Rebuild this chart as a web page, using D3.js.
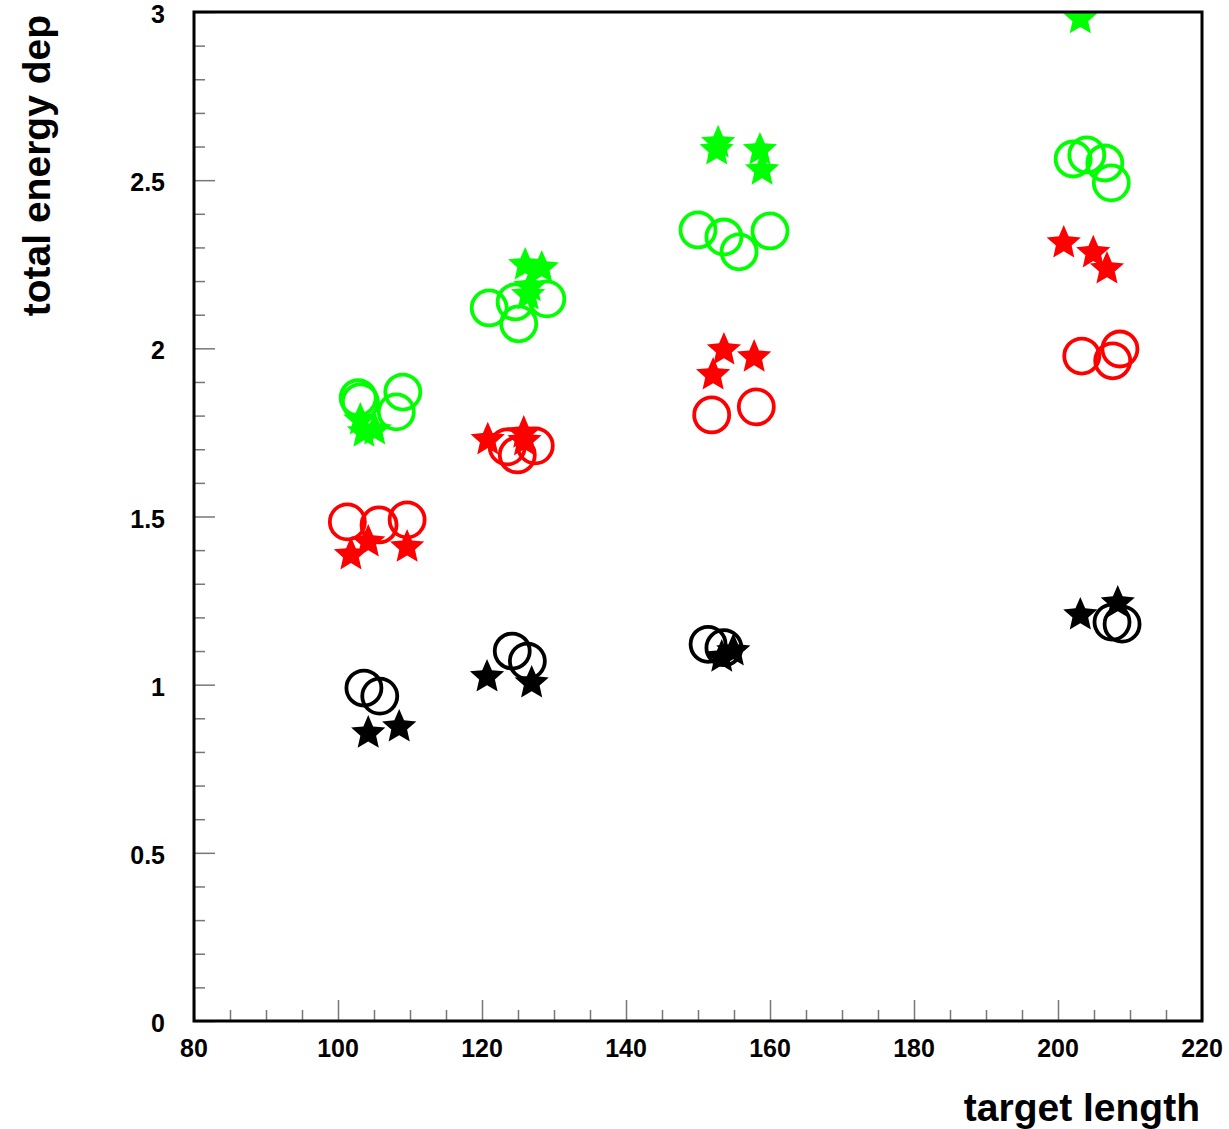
<!DOCTYPE html>
<html>
<head>
<meta charset="utf-8">
<script src="https://cdn.jsdelivr.net/npm/d3@7"></script>
<style>
  body { margin: 0; background: #fff; }
  text { font-family: "Liberation Sans", Arial, sans-serif; font-weight: bold; }
</style>
</head>
<body>
<div id="chart"></div>
<script>
let width = 1229;
let height = 1129;

const colors = {
  black: "#000000",
  red: "#ff0000",
  green: "#00ff00",
  tick: "#777777"
};

// values
const xTicks = [80, 100, 120, 140, 160, 180, 200, 220];
const yTicks = [0, 0.5, 1, 1.5, 2, 2.5, 3];

const blackCircleX = [103.6, 105.8, 124.2, 126.3, 151.4, 153.6, 207.5, 208.9];
const blackCircleY = [0.99, 0.966, 1.10, 1.07, 1.12, 1.11, 1.186, 1.18];
const blackStarX = [104.2, 108.5, 120.7, 126.9, 153.3, 154.9, 203.1, 208.3];
const blackStarY = [0.856, 0.874, 1.023, 1.005, 1.082, 1.10, 1.207, 1.243];

const redCircleX = [101.3, 105.7, 109.6, 123.5, 124.9, 127.4, 151.9, 158.1, 203.3, 207.6, 208.6];
const redCircleY = [1.484, 1.475, 1.49, 1.707, 1.683, 1.71, 1.802, 1.826, 1.977, 1.963, 1.998];
const redStarX = [101.8, 104.2, 109.6, 120.8, 125.8, 125.9, 152.1, 153.6, 157.8, 200.8, 204.9, 206.8];
const redStarY = [1.386, 1.424, 1.409, 1.728, 1.748, 1.725, 1.921, 1.995, 1.974, 2.313, 2.284, 2.236];

const greenCircleX = [102.8, 103.1, 109.0, 108.1, 121.0, 124.6, 125.1, 129.0, 150.0, 153.6, 155.7, 160.0, 202.1, 204.0, 206.5, 207.4];
const greenCircleY = [1.853, 1.841, 1.87, 1.811, 2.12, 2.138, 2.073, 2.147, 2.352, 2.331, 2.287, 2.349, 2.563, 2.575, 2.551, 2.492];
const greenStarX = [103.1, 103.6, 105.1, 126.0, 128.3, 126.7, 126.4, 152.8, 152.6, 158.6, 158.9, 203.1];
const greenStarY = [1.787, 1.751, 1.757, 2.248, 2.239, 2.183, 2.159, 2.611, 2.59, 2.59, 2.53, 2.98];

const series = [
  { xs: blackCircleX, ys: blackCircleY, color: colors.black, shape: "circle" },
  { xs: blackStarX, ys: blackStarY, color: colors.black, shape: "star" },
  { xs: redCircleX, ys: redCircleY, color: colors.red, shape: "circle" },
  { xs: redStarX, ys: redStarY, color: colors.red, shape: "star" },
  { xs: greenCircleX, ys: greenCircleY, color: colors.green, shape: "circle" },
  { xs: greenStarX, ys: greenStarY, color: colors.green, shape: "star" }
];

const margin = { left: 194, right: 27, top: 12, bottom: 108 };

const x = d3.scaleLinear().domain([80, 220]).range([margin.left, width - margin.right]);
const y = d3.scaleLinear().domain([0, 3]).range([height - margin.bottom, margin.top]);

const svg = d3.select("#chart")
  .append("svg")
  .attr("width", width)
  .attr("height", height);

svg.append("clipPath")
  .attr("id", "plot-clip")
  .append("rect")
  .attr("x", x(80))
  .attr("y", y(3))
  .attr("width", x(220) - x(80))
  .attr("height", y(0) - y(3));

// minor + major ticks, drawn inward
const xAxis = d3.axisTop(x)
  .tickValues(d3.range(80, 221, 5))
  .tickSizeInner(0)
  .tickSizeOuter(0)
  .tickFormat("");

svg.append("g")
  .attr("transform", "translate(0," + y(0) + ")")
  .call(xAxis)
  .call(g => g.select(".domain").remove())
  .selectAll(".tick line")
  .attr("y2", function(d) { return d % 20 === 0 ? -21 : -11; })
  .attr("stroke", colors.tick)
  .attr("stroke-width", 1.5);

const yAxis = d3.axisRight(y)
  .tickValues(d3.range(0, 31, 1).map(function(d) { return d / 10; }))
  .tickSizeInner(0)
  .tickSizeOuter(0)
  .tickFormat("");

svg.append("g")
  .attr("transform", "translate(" + x(80) + ",0)")
  .call(yAxis)
  .call(g => g.select(".domain").remove())
  .selectAll(".tick line")
  .attr("x2", function(d) { return Math.round(d * 10) % 5 === 0 ? 21 : 11; })
  .attr("stroke", colors.tick)
  .attr("stroke-width", 1.5);

// tick labels
svg.selectAll(".xlabel")
  .data(xTicks)
  .enter()
  .append("text")
  .classed("xlabel", true)
  .attr("x", function(d) { return x(d); })
  .attr("y", y(0) + 36)
  .attr("text-anchor", "middle")
  .attr("font-size", "25px")
  .text(function(d) { return d; });

svg.selectAll(".ylabel")
  .data(yTicks)
  .enter()
  .append("text")
  .classed("ylabel", true)
  .attr("x", 165)
  .attr("y", function(d) { return y(d) + 11; })
  .attr("text-anchor", "end")
  .attr("font-size", "25px")
  .text(function(d) { return d3.format("")(d); });

// fatter 5-point star, like the ROOT marker
const fatStar = {
  draw: function(context, size) {
    const R = Math.sqrt(size);
    const r = R * 0.46;
    for (let i = 0; i < 10; i++) {
      const a = -Math.PI / 2 + i * Math.PI / 5;
      const rr = i % 2 === 0 ? R : r;
      if (i === 0) context.moveTo(rr * Math.cos(a), rr * Math.sin(a));
      else context.lineTo(rr * Math.cos(a), rr * Math.sin(a));
    }
    context.closePath();
  }
};
const star = d3.symbol().type(fatStar).size(18 * 18);
const plot = svg.append("g").attr("clip-path", "url(#plot-clip)");

series.forEach(function(s) {
  const pts = s.xs.map(function(v, i) { return [v, s.ys[i]]; });
  if (s.shape === "circle") {
    plot.selectAll(null)
      .data(pts)
      .enter()
      .append("circle")
      .attr("cx", function(d) { return x(d[0]); })
      .attr("cy", function(d) { return y(d[1]); })
      .attr("r", 17.5)
      .attr("fill", "none")
      .attr("stroke", s.color)
      .attr("stroke-width", 3.8);
  } else {
    plot.selectAll(null)
      .data(pts)
      .enter()
      .append("path")
      .attr("d", star)
      .attr("transform", function(d) { return "translate(" + x(d[0]) + "," + y(d[1]) + ")"; })
      .attr("fill", s.color);
  }
});

// frame
svg.append("rect")
  .attr("x", x(80))
  .attr("y", y(3))
  .attr("width", x(220) - x(80))
  .attr("height", y(0) - y(3))
  .attr("fill", "none")
  .attr("stroke", "#000")
  .attr("stroke-width", 3);

// axis titles
svg.append("text")
  .attr("x", 1200)
  .attr("y", 1121)
  .attr("text-anchor", "end")
  .attr("font-size", "39px")
  .text("target length");

svg.append("text")
  .attr("transform", "translate(50,15) rotate(-90)")
  .attr("text-anchor", "end")
  .attr("font-size", "39px")
  .text("total energy dep");
</script>
</body>
</html>
